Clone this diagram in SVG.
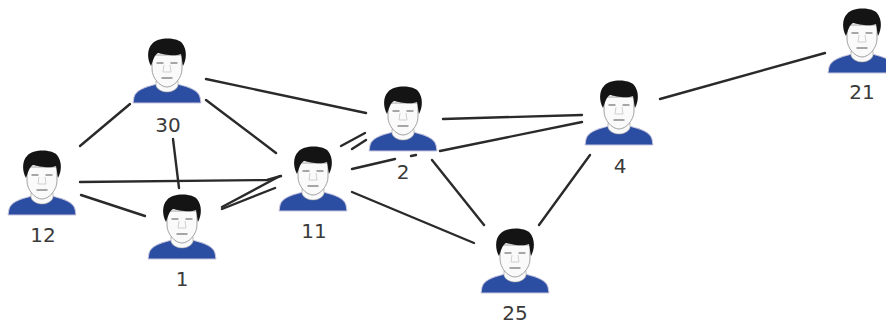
<svg xmlns="http://www.w3.org/2000/svg" width="886" height="325" viewBox="0 0 886 325">
<style>
.l{stroke:#2a2a2a;stroke-width:2.4;fill:none;stroke-linecap:round}
.t{font-family:"DejaVu Sans",sans-serif;font-size:20px;fill:#3a3a3a;text-anchor:middle}
.body{fill:#2b4ea3;stroke:#c9c6de;stroke-width:1}
.face{fill:#fafafa;stroke:#8a8a8a;stroke-width:.8}
.hair{fill:#141414}
.d{stroke:#8a8a8a;stroke-width:1.4;fill:none;stroke-linecap:round}
.d2{stroke:#d0d0d0;stroke-width:1;fill:none}
</style>
<defs>
<g id="p">
<path class="body" d="M-34,64 L-33,58 C-31,51 -22,48 -10,45 L10,45 C22,48 31,51 33,58 L34,64 Z"/>
<path d="M-11,42 L-11,47 C-7,55 7,55 11,47 L11,42 Z" fill="#fafafa" stroke="#999" stroke-width=".6"/>
<path class="face" d="M-15,16 L-15,30 C-15,39 -7,48 0,48 C7,48 15,39 15,30 L15,16 Z"/>
<path class="hair" d="M-16,27 C-20,20 -20,10 -15,5 C-9,-2 9,-2 15,4 C20,10 20,20 16,27 C15,23 15,19 14,15 C7,18 -4,15 -9,14 C-13,16 -14,22 -16,27 Z"/>
<path class="d" d="M-10,24 L-4,24 M4,24 L10,24 M-5,39 L5,39"/>
<path class="d2" d="M-3,26 L-4,33 L4,33 L3,26"/>
</g>
</defs>
<g id="connectors">
<path class="l" d="M130,104 L80,146"/>
<path class="l" d="M206,79 L366,113"/>
<path class="l" d="M206,100 L276,153"/>
<path class="l" d="M173,139 L179,188"/>
<path class="l" d="M81,195 L145,216"/>
<path class="l" d="M80,182 L267,180 L281,176"/>
<path class="l" d="M222,207 L280,176"/>
<path class="l" d="M222,209 L275,188"/>
<path class="l" d="M341,146 L365,133"/>
<path class="l" d="M352,149 L366,140"/>
<path class="l" d="M352,169 L395,159"/>
<path class="l" d="M411,156 L416,155"/>
<path class="l" d="M440,151 L582,122"/>
<path class="l" d="M443,119 L582,115"/>
<path class="l" d="M432,160 L484,225"/>
<path class="l" d="M352,192 L474,243"/>
<path class="l" d="M590,155 L539,225"/>
<path class="l" d="M660,99 L825,53"/>
</g>
<g id="n30"><use href="#p" x="167" y="39"/><text class="t" x="168" y="132">30</text></g>
<g id="n12"><use href="#p" x="42" y="151"/><text class="t" x="43" y="242">12</text></g>
<g id="n1"><use href="#p" x="182" y="195"/><text class="t" x="182" y="286">1</text></g>
<g id="n11"><use href="#p" x="313" y="147"/><text class="t" x="314" y="238">11</text></g>
<g id="n2"><use href="#p" x="403" y="87"/><text class="t" x="403" y="179">2</text></g>
<g id="n4"><use href="#p" x="619" y="81"/><text class="t" x="620" y="173">4</text></g>
<g id="n21"><use href="#p" x="862" y="9"/><text class="t" x="862" y="99">21</text></g>
<g id="n25"><use href="#p" x="515" y="229"/><text class="t" x="515" y="320">25</text></g>
</svg>
